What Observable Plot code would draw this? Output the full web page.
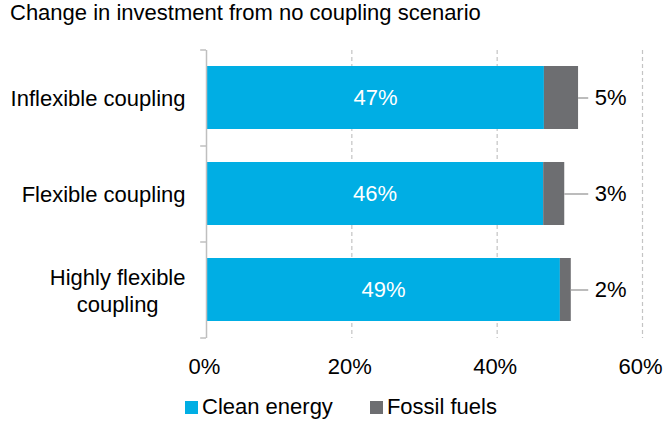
<!DOCTYPE html>
<html>
<head>
<meta charset="utf-8">
<script src="https://cdn.jsdelivr.net/npm/d3@7"></script>
<script src="https://cdn.jsdelivr.net/npm/@observablehq/plot@0.6"></script>
<style>
  html, body { margin: 0; padding: 0; background: #fff; }
  body { width: 663px; height: 421px; overflow: hidden; font-family: "Liberation Sans", Arial, sans-serif; color: #000; }
  #title { height: 40px; padding-left: 10px; font-size: 22px; line-height: 26px; box-sizing: border-box; white-space: nowrap; }
  #legend { height: 38px; display: flex; align-items: center; padding-left: 185px; font-size: 22px; }
  .item { display: flex; align-items: center; margin-right: 37px; }
  .sw { width: 13px; height: 13px; margin-right: 4px; }
</style>
</head>
<body>
<div id="title">Change in investment from no coupling scenario</div>
<div id="chart"></div>
<div id="legend"></div>
<script>
// ---- data ----
const categories = ["Inflexible coupling", "Flexible coupling", "Highly flexible\ncoupling"];
const cleanEnergy = [46.5, 46.4, 48.7];
const fossilFuels = [4.7, 2.9, 1.5];
const cleanLabels = ["47%", "46%", "49%"];
const fossilLabels = ["5%", "3%", "2%"];
const seriesNames = ["Clean energy", "Fossil fuels"];
const seriesColors = ["#00aee4", "#6d6e71"];
const xTicks = [0, 20, 40, 60];

// ---- layout constants ----
const W = 663, H = 348, mTop = 10, mBottom = 50, mLeft = 206, mRight = 21;
const leaderEnd = 52.6;
const bandStep = (H - mTop - mBottom) / categories.length;

const rows = [];
categories.forEach((c, i) => {
  rows.push({scenario: c, source: seriesNames[0], value: cleanEnergy[i]});
  rows.push({scenario: c, source: seriesNames[1], value: fossilFuels[i]});
});
const totals = categories.map((c, i) => ({
  scenario: c, clean: cleanEnergy[i], total: cleanEnergy[i] + fossilFuels[i],
  cleanLabel: cleanLabels[i], fossilLabel: fossilLabels[i]
}));

const plot = Plot.plot({
  width: W, height: H,
  marginTop: mTop, marginBottom: mBottom, marginLeft: mLeft, marginRight: mRight,
  style: {fontFamily: '"Liberation Sans", Arial, sans-serif', fontSize: "22px", color: "#000", background: "#fff"},
  x: {domain: [0, 60], axis: null},
  y: {domain: categories, paddingInner: 0.34, paddingOuter: 0.17, axis: null},
  color: {domain: seriesNames, range: seriesColors},
  marks: [
    Plot.gridX({ticks: [20, 40, 60], stroke: "#c4c4c4", strokeOpacity: 1, strokeWidth: 1.2, strokeDasharray: "4,3"}),
    Plot.barX(rows, {y: "scenario", x: "value", fill: "source"}),
    Plot.ruleX([0], {stroke: "#bfbfbf", strokeWidth: 1.5}),
    Plot.ruleY(categories, {y: d => d, x1: 0, x2: -0.8, dy: -bandStep / 2, stroke: "#bfbfbf", strokeWidth: 1.5}),
    Plot.ruleY(categories.slice(-1), {y: d => d, x1: 0, x2: -0.8, dy: bandStep / 2, stroke: "#bfbfbf", strokeWidth: 1.5}),
    Plot.ruleY(totals, {y: "scenario", x1: "total", x2: leaderEnd, stroke: "#a6a6a6", strokeWidth: 1.5}),
    Plot.text(totals, {y: "scenario", x: d => d.clean / 2, text: "cleanLabel", fill: "#fff", fontSize: 22}),
    Plot.text(totals, {y: "scenario", x: leaderEnd, text: "fossilLabel", textAnchor: "start", dx: 6, fill: "#000", fontSize: 22}),
    Plot.axisX({ticks: xTicks, tickSize: 0, tickPadding: 20, tickFormat: d => d + "%", fontSize: 22, dx: -2, label: null}),
    Plot.axisY({tickSize: 0, tickPadding: 21, fontSize: 22, lineHeight: 1.2, label: null})
  ]
});
document.getElementById("chart").appendChild(plot);

// center multi-line category labels within their own block (right-aligned block)
plot.querySelectorAll('g[aria-label="y-axis tick label"] text').forEach(t => {
  const spans = t.querySelectorAll("tspan");
  if (spans.length > 1) {
    let w = 0;
    spans.forEach(s => { w = Math.max(w, s.getComputedTextLength()); });
    t.setAttribute("text-anchor", "middle");
    spans.forEach(s => s.setAttribute("x", -w / 2));
  }
});

// legend
const legend = document.getElementById("legend");
seriesNames.forEach((name, i) => {
  const item = document.createElement("div");
  item.className = "item";
  const sw = document.createElement("div");
  sw.className = "sw";
  sw.style.background = seriesColors[i];
  const label = document.createElement("span");
  label.textContent = name;
  item.appendChild(sw);
  item.appendChild(label);
  legend.appendChild(item);
});
</script>
</body>
</html>
